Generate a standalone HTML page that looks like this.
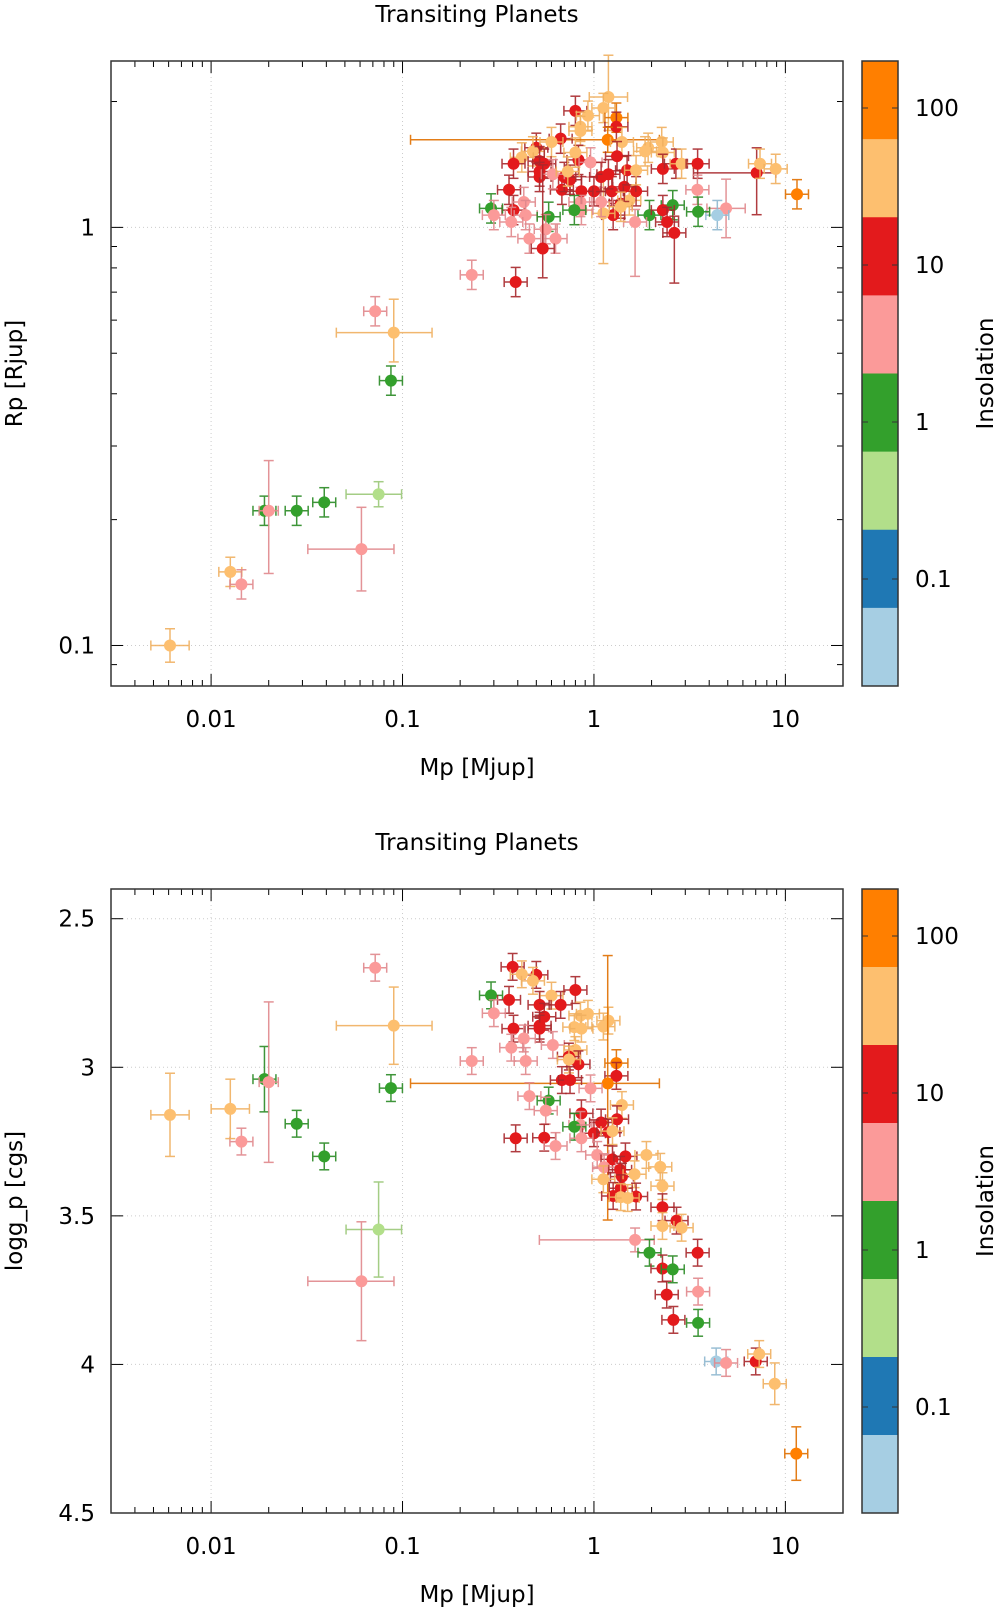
<!DOCTYPE html>
<html><head><meta charset="utf-8"><style>
html,body{margin:0;padding:0;background:#fff;}
svg{display:block;font-family:"DejaVu Sans","Liberation Sans",sans-serif;}
</style></head><body>
<svg id="fig" width="1000" height="1610" viewBox="0 0 1000 1610"></svg>
<script>
// ---- shared ----
const classColors = ['#a6cee3','#1f78b4','#b2df8a','#33a02c','#fb9a99','#e31a1c','#fdbf6f','#ff7f00'];
const errColors = ['#8fb8d0','#1f5f90','#9bc878','#2a8a24','#e0888c','#a8282c','#f0b060','#e07000'];
const xTickValues = [0.01,0.1,1,10];
const xTickLabels = ['0.01','0.1','1','10'];
const cbarLabels = ['100','10','1','0.1'];

// ---- plot 1: Rp vs Mp ----
const mass1 = [1.19,1.12,1.31,0.80,0.93,1.31,0.85,0.85,0.50,1.18,0.67,0.60,0.48,0.42,0.38,0.52,0.55,0.83,0.96,0.80,1.40,1.32,1.92,2.26,1.85,2.29,2.29,2.68,2.87,3.48,7.08,7.37,8.9,11.5,3.47,4.9,4.41,3.5,2.58,1.95,2.29,2.41,2.63,1.64,1.38,1.53,1.66,1.44,1.49,1.66,1.24,1.26,1.12,1.09,1.0,0.85,0.86,0.86,0.79,0.68,0.75,0.70,0.52,0.52,0.61,0.73,1.09,1.19,0.36,0.38,0.43,0.44,0.29,0.30,0.37,0.58,0.56,0.46,0.63,0.54,0.23,0.39,1.38,0.072,0.09,0.087,0.075,0.039,0.028,0.019,0.020,0.061,0.0126,0.0144,0.0061];
const radius1 = [2.05,1.93,1.83,1.90,1.85,1.74,1.74,1.70,1.55,1.62,1.63,1.60,1.52,1.47,1.42,1.44,1.42,1.45,1.43,1.51,1.60,1.48,1.55,1.60,1.52,1.51,1.38,1.42,1.42,1.42,1.35,1.42,1.38,1.20,1.23,1.11,1.07,1.09,1.13,1.07,1.10,1.03,0.97,1.03,1.14,1.16,1.22,1.25,1.37,1.37,1.22,1.07,1.08,1.15,1.22,1.15,1.22,1.10,1.10,1.23,1.30,1.32,1.32,1.36,1.34,1.36,1.32,1.34,1.23,1.10,1.15,1.07,1.11,1.07,1.03,1.06,0.99,0.94,0.94,0.89,0.77,0.74,1.12,0.63,0.56,0.43,0.23,0.22,0.21,0.21,0.21,0.17,0.15,0.14,0.10];
const cls1 = [6,6,7,5,6,5,6,6,5,7,5,6,6,6,5,5,5,5,4,6,6,5,6,6,6,6,5,5,6,5,5,6,6,7,4,4,0,3,3,3,5,5,5,4,5,6,5,5,5,6,5,5,6,4,5,4,5,4,3,5,5,5,5,5,4,6,5,5,5,5,4,4,3,4,4,3,4,4,4,5,4,5,6,4,6,3,2,3,3,3,4,4,6,4,6];
// [massLoDex, massHiDex, radLoDex, radHiDex]
const err1 = {0:[0.1,0.1,0.08,0.1],9:[1.03,0.27,0.03,0.03],30:[0.33,0.1,0.1,0.06],35:[0.1,0.1,0.07,0.07],42:[0.06,0.06,0.12,0.04],43:[0.06,0.06,0.13,0.03],52:[0.06,0.06,0.12,0.1],79:[0.06,0.06,0.07,0.2],84:[0.3,0.2,0.07,0.08],86:[0.17,0.12,0.03,0.03],90:[0.05,0.05,0.15,0.12],91:[0.28,0.17,0.1,0.1],94:[0.1,0.1,0.04,0.04]};
const yTicks1 = [0.1,1];
const yTickLabels1 = ['0.1','1'];

// ---- plot 2: logg vs Mp ----
const mass2 = [0.376,0.50,0.42,0.48,0.80,0.60,0.29,0.36,0.52,0.67,0.55,0.30,0.85,0.93,1.19,1.12,0.79,0.86,0.38,0.52,0.52,0.43,0.37,0.61,0.23,0.44,0.80,0.74,0.83,0.74,1.31,1.31,1.18,0.68,0.75,0.96,0.46,0.58,1.40,0.56,0.86,1.32,1.09,0.85,0.79,1.0,1.19,1.25,0.86,0.39,0.55,0.63,1.04,1.25,1.46,1.88,1.13,1.37,1.40,2.22,1.63,1.12,2.28,1.38,1.26,1.66,1.38,1.5,2.28,2.7,2.28,2.87,1.64,1.95,3.48,2.28,2.58,2.4,2.6,3.5,3.5,4.35,4.9,7.0,7.3,8.8,11.4,0.072,0.09,0.087,0.075,0.061,0.039,0.028,0.019,0.020,0.0144,0.0126,0.0061];
const logg2 = [2.662,2.689,2.687,2.709,2.74,2.759,2.758,2.773,2.79,2.79,2.83,2.818,2.826,2.82,2.843,2.863,2.865,2.87,2.87,2.86,2.87,2.903,2.934,2.925,2.979,2.979,2.942,2.964,2.99,2.974,2.986,3.029,3.054,3.043,3.043,3.071,3.097,3.112,3.127,3.146,3.155,3.175,3.186,3.194,3.2,3.222,3.218,3.215,3.239,3.239,3.237,3.265,3.295,3.31,3.30,3.295,3.336,3.345,3.368,3.335,3.36,3.377,3.40,3.407,3.433,3.435,3.437,3.44,3.471,3.516,3.534,3.54,3.581,3.624,3.624,3.677,3.68,3.765,3.85,3.86,3.755,3.99,3.995,3.99,3.965,4.065,4.30,2.665,2.86,3.07,3.546,3.72,3.30,3.19,3.04,3.05,3.25,3.14,3.16];
const cls2 = [5,5,6,6,5,6,3,5,5,5,5,4,6,6,6,6,6,6,5,5,5,4,4,4,4,4,6,5,5,6,7,5,7,5,5,4,4,3,6,4,5,5,5,4,3,5,5,6,4,5,5,4,4,5,5,6,4,5,5,6,6,6,6,5,5,5,6,6,5,5,6,6,4,3,5,5,3,5,5,3,4,0,4,5,6,6,7,4,6,3,2,4,3,3,3,4,4,6,6];
// [massLoDex, massHiDex, gLo, gHi]
const err2 = {32:[1.03,0.27,0.43,0.46],72:[0.5,0.1,0.04,0.04],85:[0.06,0.06,0.07,0.07],86:[0.06,0.06,0.09,0.09],88:[0.3,0.2,0.13,0.13],90:[0.17,0.12,0.16,0.16],91:[0.28,0.17,0.2,0.2],94:[0.06,0.06,0.11,0.11],95:[0.05,0.05,0.27,0.27],97:[0.1,0.1,0.1,0.1],98:[0.1,0.1,0.14,0.14]};
const yTicks2 = [2.5,3,3.5,4,4.5];
const yTickLabels2 = ['2.5','3','3.5','4','4.5'];

const NS='http://www.w3.org/2000/svg';
const svg=document.getElementById('fig');
function mk(tag,attrs,parent){const e=document.createElementNS(NS,tag);for(const k in attrs)e.setAttribute(k,attrs[k]);(parent||svg).appendChild(e);return e;}

const L=111,R=843,XMIN=Math.log10(0.003),XMAX=Math.log10(20);
function xs(m){return L+(Math.log10(m)-XMIN)/(XMAX-XMIN)*(R-L);}
const FS=23;

function drawPanel(top,bot,ys,yLin,yTicks,yLabels,mass,yv,cls,errs,defErr,titleY,yTitle,p){
  const g=mk('g',{});
  
  
  const t=mk('text',{x:477,y:titleY,'font-size':FS,'text-anchor':'middle',fill:'#000'},g);
  t.textContent='Transiting Planets';
  
  
  xTickValues.forEach(v=>{const l=mk('line',{x1:xs(v),x2:xs(v),y1:top,y2:bot,stroke:'#ccc','stroke-width':1,'stroke-dasharray':'1,3'},g);
    
    });
  yTicks.forEach(v=>{const y=ys(v);if(y>top+1&&y<bot-1){const l=mk('line',{x1:L,x2:R,y1:y,y2:y,stroke:'#ccc','stroke-width':1,'stroke-dasharray':'1,3'},g);
    
    }});
  for(let d=-3;d<=1;d++){for(let k=1;k<=9;k++){const v=k*Math.pow(10,d);const x=xs(v);if(x<L||x>R)continue;const len=k===1?12:6;
    mk('line',{x1:x,x2:x,y1:bot,y2:bot-len,stroke:'#000','stroke-width':1},g);
    mk('line',{x1:x,x2:x,y1:top,y2:top+len,stroke:'#000','stroke-width':1},g);}}
  xTickValues.forEach((v,i)=>{const tx=mk('text',{x:xs(v),y:bot+41,'font-size':FS,'text-anchor':'middle'},g);tx.textContent=xTickLabels[i];
    
    });
  if(!yLin){for(let d=-2;d<=0;d++){for(let k=1;k<=9;k++){const v=k*Math.pow(10,d);const y=ys(v);if(y<top||y>bot)continue;const len=k===1?12:6;
    mk('line',{x1:L,x2:L+len,y1:y,y2:y,stroke:'#000','stroke-width':1},g);
    mk('line',{x1:R,x2:R-len,y1:y,y2:y,stroke:'#000','stroke-width':1},g);}}}
  else{yTicks.forEach(v=>{const y=ys(v);mk('line',{x1:L,x2:L+12,y1:y,y2:y,stroke:'#000'},g);mk('line',{x1:R,x2:R-12,y1:y,y2:y,stroke:'#000'},g);});}
  yTicks.forEach((v,i)=>{const ty=mk('text',{x:95,y:ys(v)+8,'font-size':FS,'text-anchor':'end'},g);ty.textContent=yLabels[i];
    
    });
  const xl=mk('text',{x:477,y:bot+89,'font-size':FS,'text-anchor':'middle'},g);xl.textContent='Mp [Mjup]';
  
  
  const cy=(top+bot)/2;
  const yl=mk('text',{x:0,y:0,'font-size':FS,'text-anchor':'middle',transform:`translate(22,${cy}) rotate(-90)`},g);yl.textContent=yTitle;
  
  
  const pts=mk('g',{},g);
  
  
  mass.forEach((m,i)=>{
    const e=errs[i]||defErr;const c=cls[i];
    const x=xs(m),y=ys(yv[i]);
    let x1,x2,y1,y2;
    x1=xs(m/Math.pow(10,e[0]));x2=xs(m*Math.pow(10,e[1]));
    if(yLin){y1=ys(yv[i]-e[2]);y2=ys(yv[i]+e[3]);}else{y1=ys(yv[i]/Math.pow(10,e[2]));y2=ys(yv[i]*Math.pow(10,e[3]));}
    const ec=errColors[c];
    const eb=mk('g',{stroke:ec,'stroke-width':1.5,opacity:0.9},pts);
    
    
    mk('line',{x1:x1,x2:x2,y1:y,y2:y},eb);
    mk('line',{x1:x1,x2:x1,y1:y-5,y2:y+5},eb);
    mk('line',{x1:x2,x2:x2,y1:y-5,y2:y+5},eb);
    mk('line',{x1:x,x2:x,y1:y1,y2:y2},eb);
    mk('line',{x1:x-5,x2:x+5,y1:y1,y2:y1},eb);
    mk('line',{x1:x-5,x2:x+5,y1:y2,y2:y2},eb);
    const ci=mk('circle',{cx:x,cy:y,r:6,fill:classColors[c]},pts);
    
    
  });
  const fr=mk('rect',{x:L,y:top,width:R-L,height:bot-top,fill:'none',stroke:'#333','stroke-width':1.5},g);
  
  
  const cb=mk('g',{},g);
  
  
  const bh=(bot-top)/8;
  for(let k=0;k<8;k++){mk('rect',{x:862,y:top+k*bh,width:36,height:bh+0.5,fill:classColors[7-k]},cb);}
  mk('rect',{x:862,y:top,width:36,height:bot-top,fill:'none',stroke:'#333','stroke-width':1.5},cb);
  cbarLabels.forEach((s,k)=>{const yy=top+47+k*157;
    mk('line',{x1:862,x2:868,y1:yy,y2:yy,stroke:'#333'},cb);mk('line',{x1:898,x2:892,y1:yy,y2:yy,stroke:'#333'},cb);
    const tl=mk('text',{x:915,y:yy+8,'font-size':FS},cb);tl.textContent=s;
    
    });
  const il=mk('text',{x:0,y:0,'font-size':FS,'text-anchor':'middle',transform:`translate(993,${cy}) rotate(-90)`},cb);il.textContent='Insolation';
  
  
}

const T1=61,B1=686,Y1MIN=Math.log10(0.08),Y1MAX=Math.log10(2.5);
function ys1(r){return B1-(Math.log10(r)-Y1MIN)/(Y1MAX-Y1MIN)*(B1-T1);}
drawPanel(T1,B1,ys1,false,yTicks1,yTickLabels1,mass1,radius1,cls1,err1,[0.06,0.06,0.035,0.035],22,'Rp [Rjup]','radius');

const T2=889,B2=1513,G2MIN=2.4,G2MAX=4.5;
function ys2(gv){return T2+(gv-G2MIN)/(G2MAX-G2MIN)*(B2-T2);}
drawPanel(T2,B2,ys2,true,yTicks2,yTickLabels2,mass2,logg2,cls2,err2,[0.06,0.06,0.045,0.045],850,'logg_p [cgs]','logg');
</script>
</body></html>
